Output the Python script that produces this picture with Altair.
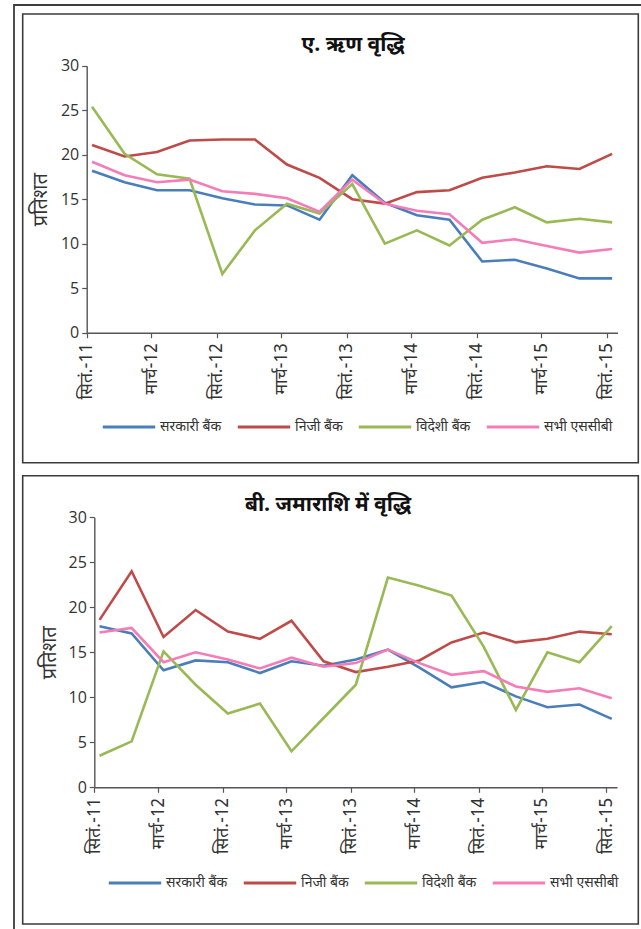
import json
import altair as alt
import pandas as pd

# Quarter-end observations, Sep-2011 .. Sep-2015
quarters = ["2011-09", "2011-12", "2012-03", "2012-06", "2012-09", "2012-12",
            "2013-03", "2013-06", "2013-09", "2013-12", "2014-03", "2014-06",
            "2014-09", "2014-12", "2015-03", "2015-06", "2015-09"]

series_names = ["सरकारी बैंक", "निजी बैंक", "विदेशी बैंक", "सभी एससीबी"]
series_colors = ["#4A7EBB", "#BE4B48", "#98B954", "#F47DB8"]

# A. credit growth (%)
credit_public = [18.2, 16.9, 16.0, 16.0, 15.1, 14.4, 14.3, 12.7, 17.7, 14.6, 13.2, 12.7, 8.0, 8.2, 7.2, 6.1, 6.1]
credit_private = [21.1, 19.8, 20.3, 21.6, 21.7, 21.7, 18.9, 17.4, 15.0, 14.5, 15.8, 16.0, 17.4, 18.0, 18.7, 18.4, 20.1]
credit_foreign = [25.4, 20.1, 17.8, 17.3, 6.6, 11.5, 14.5, 13.4, 16.7, 10.0, 11.5, 9.8, 12.7, 14.1, 12.4, 12.8, 12.4]
credit_all = [19.2, 17.7, 16.9, 17.2, 15.9, 15.6, 15.1, 13.6, 17.2, 14.5, 13.7, 13.3, 10.1, 10.5, 9.75, 9.0, 9.4]

# B. deposit growth (%)
deposit_public = [17.9, 17.1, 13.0, 14.1, 13.9, 12.7, 14.0, 13.5, 14.2, 15.3, 13.3, 11.1, 11.7, 10.1, 8.9, 9.2, 7.6]
deposit_private = [18.6, 24.0, 16.7, 19.7, 17.3, 16.5, 18.5, 14.0, 12.8, 13.4, 14.1, 16.1, 17.2, 16.1, 16.5, 17.3, 17.0]
deposit_foreign = [3.5, 5.1, 15.1, 11.4, 8.2, 9.3, 4.0, 7.7, 11.4, 23.3, 22.4, 21.3, 15.6, 8.6, 15.0, 13.9, 17.9]
deposit_all = [17.2, 17.7, 13.9, 15.0, 14.2, 13.2, 14.4, 13.4, 13.8, 15.3, 13.8, 12.5, 12.9, 11.2, 10.6, 11.0, 9.9]

tick_keys = ["2011-09", "2012-03", "2012-09", "2013-03", "2013-09",
             "2014-03", "2014-09", "2015-03", "2015-09"]
tick_labels = ["सितं.-11", "मार्च-12", "सितं.-12", "मार्च-13", "सितं.-13",
               "मार्च-14", "सितं.-14", "मार्च-15", "सितं.-15"]
y_ticks = [0, 5, 10, 15, 20, 25, 30]

title_a = "ए. ऋण वृद्धि"
title_b = "बी. जमाराशि में वृद्धि"
y_title = "प्रतिशत"

FONT = "Noto Sans Devanagari, Noto Sans, sans-serif"
NUM_FONT = "Open Sans"
INK = "#333333"
AXIS = "#555555"
FRAME = "#3c3c3c"
W, H = 641, 929


def long_table(cols):
    rows = []
    for name, vals in zip(series_names, cols):
        for q, v in zip(quarters, vals):
            rows.append({"quarter": q, "series": name, "value": v})
    return pd.DataFrame(rows)


def ym(s):
    y, m = s.split("-")
    return alt.DateTime(year=int(y), month=int(m), date=1, utc=True)


label_expr = "{}[indexof({}, utcFormat(datum.value, '%Y-%m'))]".format(
    json.dumps(tick_labels, ensure_ascii=False), json.dumps(tick_keys))
x_domain = [alt.DateTime(year=2011, month=9, date=1, utc=True),
            alt.DateTime(year=2015, month=10, date=1, utc=True)]


def panel_lines(df, x_range, y_range, ytitle_x, legend_x, legend_y):
    return alt.Chart(df).mark_line(strokeWidth=2.6).encode(
        x=alt.X("quarter:T", timeUnit="utcyearmonth", bandPosition=0.5,
                scale=alt.Scale(domain=x_domain, range=x_range, nice=False),
                axis=alt.Axis(orient="bottom", offset=y_range[0] - H,
                              values=[ym(k) for k in tick_keys], labelExpr=label_expr,
                              labelAngle=-90, labelFont=FONT, labelFontSize=17.5,
                              labelPadding=5, tickSize=5, labelColor=INK,
                              domainColor=AXIS, tickColor=AXIS,
                              domainWidth=1.4, tickWidth=1.2, grid=False,
                              labelOverlap=False, zindex=2, title=None)),
        y=alt.Y("value:Q",
                scale=alt.Scale(domain=[0, 30], range=y_range, nice=False),
                axis=alt.Axis(orient="left", offset=-x_range[0], values=y_ticks,
                              labelFont=NUM_FONT, labelFontSize=16, labelColor=INK,
                              labelPadding=3, tickSize=5,
                              domainColor=AXIS, tickColor=AXIS,
                              domainWidth=1.4, tickWidth=1.2, grid=False, zindex=2,
                              title=y_title, titleFont=FONT, titleFontSize=20,
                              titleFontWeight="normal", titleColor=INK,
                              titleX=ytitle_x, titleBaseline="middle")),
        color=alt.Color("series:N",
                        scale=alt.Scale(domain=series_names, range=series_colors),
                        legend=alt.Legend(orient="none", legendX=legend_x, legendY=legend_y,
                                          direction="horizontal", columns=4, title=None,
                                          gridAlign="each",
                                          symbolSize=2750, symbolStrokeWidth=3,
                                          labelFont=FONT, labelFontSize=14, labelColor=INK,
                                          labelOffset=3, columnPadding=9, padding=0)),
    )


def frame(x1, y1, x2, y2, width=1.6):
    return alt.Chart(pd.DataFrame({"k": [0]})).mark_rect(
        filled=False, stroke=FRAME, strokeWidth=width).encode(
        x=alt.value(x1), x2=alt.value(x2), y=alt.value(y1), y2=alt.value(y2))


def heading(text, x, y):
    return alt.Chart(pd.DataFrame({"t": [text]})).mark_text(
        font=FONT, fontSize=21, fontWeight="bold", color="#111111",
        align="center", baseline="middle").encode(
        text="t:N", x=alt.value(x), y=alt.value(y))


credit = long_table([credit_public, credit_private, credit_foreign, credit_all])
deposit = long_table([deposit_public, deposit_private, deposit_foreign, deposit_all])

chart = alt.layer(
    frame(14, 5, 700, 1000, 1.8),
    frame(22.7, 14, 638.3, 462.7),
    frame(22.7, 475.7, 638.3, 924),
    heading(title_a, 353, 45),
    heading(title_b, 328, 505),
    panel_lines(credit, [86.7, 617.5], [332.7, 65.7], -46, 101, 399),
    panel_lines(deposit, [94.3, 617.0], [787.3, 517.3], -45, 107, 855),
).resolve_scale(
    x="independent", y="independent", color="independent"
).resolve_axis(
    x="independent", y="independent"
).resolve_legend(
    color="independent"
).properties(
    width=W, height=H, padding=0, autosize=alt.AutoSizeParams(type="none"),
    background="white"
).configure_view(strokeWidth=0)

chart.save("out.html", embed_options={"renderer": "svg", "actions": False})
